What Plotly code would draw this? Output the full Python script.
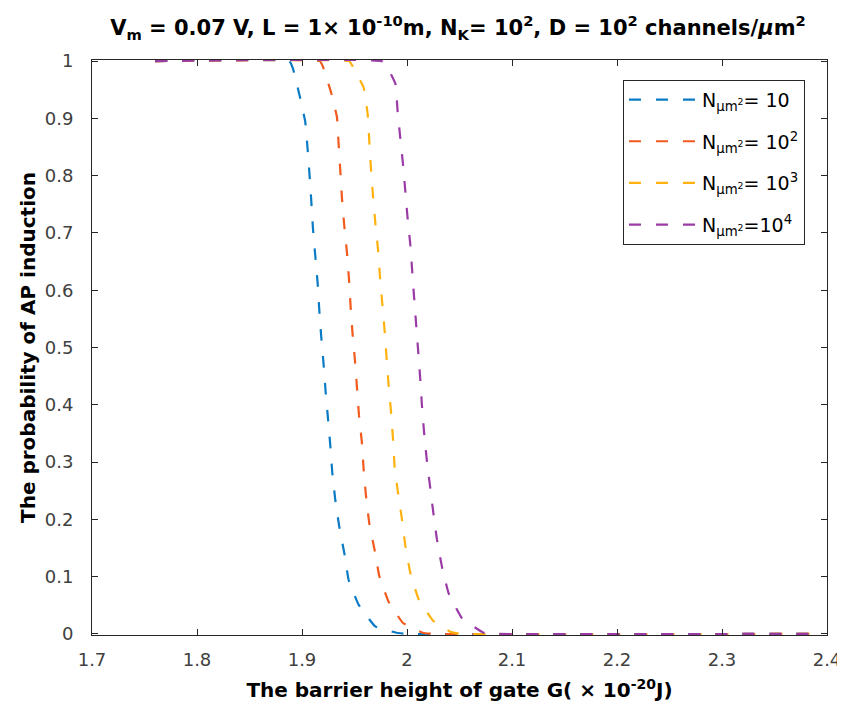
import plotly.graph_objects as go

# Series
blue_x = [1.76, 1.888, 1.8914, 1.8977, 1.9031, 1.9053, 1.9072, 1.9089, 1.9105, 1.9127, 1.9149,
          1.9165, 1.9184, 1.9206, 1.9225, 1.9248, 1.9270, 1.9289, 1.9317, 1.9355, 1.9403,
          1.9444, 1.9539, 1.9698, 1.990, 2.000, 2.39]
blue_y = [1, 1, 0.987, 0.940, 0.894, 0.847, 0.801, 0.754, 0.706, 0.659, 0.612,
          0.564, 0.517, 0.470, 0.423, 0.375, 0.328, 0.280, 0.234, 0.187, 0.141,
          0.094, 0.051, 0.013, 0.002, 0, 0]

orange_x = [1.76, 1.917, 1.9200, 1.9276, 1.9333, 1.9349, 1.9365, 1.9381, 1.9403, 1.9429, 1.9448,
            1.9463, 1.9482, 1.9505, 1.9524, 1.9543, 1.9571, 1.9587, 1.9610, 1.9641, 1.9691,
            1.9736, 1.9825, 1.9962, 2.015, 2.025, 2.39]
orange_y = [1, 1, 0.990, 0.946, 0.902, 0.854, 0.808, 0.760, 0.712, 0.664, 0.618,
            0.571, 0.523, 0.476, 0.429, 0.381, 0.333, 0.287, 0.240, 0.193, 0.147,
            0.101, 0.056, 0.019, 0.002, 0, 0]

yellow_x = [1.76, 1.945, 1.9476, 1.9587, 1.9625, 1.9641, 1.9657, 1.9676, 1.9698, 1.9724, 1.9743,
            1.9765, 1.9787, 1.9806, 1.9825, 1.9848, 1.9867, 1.9882, 1.9914, 1.9952, 1.9984,
            2.0031, 2.0110, 2.0248, 2.042, 2.052, 2.39]
yellow_y = [1, 1, 0.993, 0.954, 0.908, 0.860, 0.812, 0.765, 0.718, 0.671, 0.623,
            0.576, 0.529, 0.481, 0.434, 0.387, 0.340, 0.292, 0.247, 0.200, 0.154,
            0.107, 0.061, 0.023, 0.003, 0, 0]

purple_x = [1.76, 1.976, 1.981, 1.9889, 1.9910, 1.9936, 1.9962, 1.9984, 2.0006, 2.0032, 2.0050,
            2.0069, 2.0088, 2.0108, 2.0127, 2.0143, 2.0165, 2.0190, 2.0222, 2.0253, 2.0286,
            2.0333, 2.0396, 2.0524, 2.0730, 2.085, 2.39]
purple_y = [1, 1, 0.990, 0.961, 0.914, 0.866, 0.820, 0.773, 0.725, 0.679, 0.632,
            0.584, 0.538, 0.490, 0.443, 0.397, 0.347, 0.301, 0.254, 0.208, 0.164,
            0.117, 0.071, 0.027, 0.002, 0, 0]

names = ["N<sub>μm<sup>2</sup></sub>= 10", "N<sub>μm<sup>2</sup></sub>= 10<sup>2</sup>",
         "N<sub>μm<sup>2</sup></sub>= 10<sup>3</sup>", "N<sub>μm<sup>2</sup></sub>=10<sup>4</sup>"]
colors = ["#0A7BC4", "#F25A1E", "#FFB20F", "#9A3BA6"]

x_ticks = [1.7, 1.8, 1.9, 2.0, 2.1, 2.2, 2.3, 2.4]
x_tick_labels = ["1.7", "1.8", "1.9", "2", "2.1", "2.2", "2.3", "2.4"]
y_ticks = [0, 0.1, 0.2, 0.3, 0.4, 0.5, 0.6, 0.7, 0.8, 0.9, 1]
y_tick_labels = ["0", "0.1", "0.2", "0.3", "0.4", "0.5", "0.6", "0.7", "0.8", "0.9", "1"]

series = [(blue_x, blue_y), (orange_x, orange_y), (yellow_x, yellow_y), (purple_x, purple_y)]

fig = go.Figure()
for i, ((xs, ys), nm, c) in enumerate(zip(series, names, colors)):
    fig.add_trace(go.Scatter(x=xs, y=ys, mode="lines", name=nm, legendgroup=f"g{i}",
                             line=dict(color=c, width=2.2, dash="12px,15px",
                                       shape="spline", smoothing=0.3)))

font_family = "DejaVu Sans, Liberation Sans, sans-serif"
axis_common = dict(showline=True, linecolor="#262626", linewidth=1, mirror="ticks",
                   ticks="inside", ticklen=6, tickcolor="#262626", showgrid=False, zeroline=False,
                   automargin=False,
                   tickfont=dict(family=font_family, size=18, color="#404040"))

# The page body has an 8px margin, so the figure is sized to fit the 845x716 window.
fig.update_layout(
    width=837, height=708,
    margin=dict(l=83.7, r=18.3, t=51.5, b=80.9),
    paper_bgcolor="white", plot_bgcolor="white",
    font=dict(family=font_family, color="#262626"),
    title=dict(text="<b>V<sub>m</sub> = 0.07 V, L = 1× 10<sup>-10</sup>m, N<sub>K</sub>= 10<sup>2</sup>, "
                    "D = 10<sup>2</sup> channels/<i>μ</i>m<sup>2</sup></b>",
               x=0.5376, xanchor="center", y=0.972, yanchor="middle",
               font=dict(family=font_family, size=21, color="black")),
    xaxis=dict(range=[1.7, 2.4], tickvals=x_ticks, ticktext=x_tick_labels,
               ticklabelstandoff=8,
               title=dict(text="<b>The barrier height of gate G( × 10<sup>-20</sup>J)</b>",
                          font=dict(family=font_family, size=20, color="black"), standoff=14),
               **axis_common),
    yaxis=dict(range=[-0.002, 1.002], tickvals=y_ticks, ticktext=y_tick_labels,
               ticklabelstandoff=14,
               title=dict(text="<b>The probability of AP induction</b>",
                          font=dict(family=font_family, size=20, color="black"), standoff=3),
               **axis_common),
    legend=dict(x=0.7224, y=0.9657, xanchor="left", yanchor="top",
                bgcolor="white", bordercolor="#262626", borderwidth=1,
                font=dict(family=font_family, size=19, color="black"),
                itemwidth=68, tracegroupgap=14),
    showlegend=True,
)

fig.write_html("out.html")
